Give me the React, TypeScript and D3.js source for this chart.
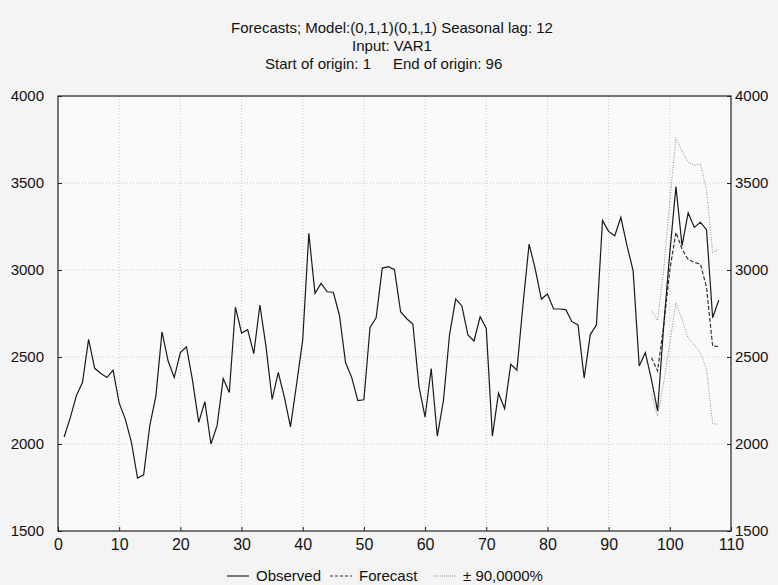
import { useEffect, useRef } from "react";
import * as d3 from "d3";

// observed series, t = 1..108
const observed = [
  2040, 2150, 2277, 2353, 2601, 2435, 2405, 2382, 2424, 2235,
  2143, 2010, 1804, 1823, 2105, 2277, 2645, 2477, 2382, 2525,
  2559, 2363, 2124, 2244, 2000, 2105, 2376, 2296, 2786, 2638,
  2657, 2519, 2799, 2560, 2256, 2411, 2269, 2098, 2345, 2600,
  3211, 2866, 2923, 2875, 2872, 2740, 2468, 2383, 2250, 2254,
  2670, 2725, 3011, 3019, 3002, 2760, 2720, 2690, 2330, 2155,
  2434, 2045, 2250, 2629, 2833, 2795, 2627, 2592, 2732, 2664,
  2045, 2292, 2203, 2458, 2424, 2800, 3149, 3006, 2833, 2862,
  2776, 2776, 2772, 2703, 2684, 2379, 2629, 2683, 3284, 3222,
  3197, 3303, 3140, 2996, 2448, 2525, 2370, 2190, 2680, 3100,
  3479, 3140, 3328, 3245, 3274, 3232, 2726, 2826,
];

// forecast and 90% bounds, t = 97..108
const forecastStart = 97;
const forecast = [2496, 2420, 2680, 3000, 3216, 3120, 3060, 3044, 3034, 2900, 2563, 2560];
const upper = [2768, 2710, 3000, 3400, 3760, 3680, 3620, 3600, 3610, 3460, 3100, 3120];
const lower = [2285, 2161, 2350, 2580, 2812, 2716, 2610, 2570, 2525, 2430, 2117, 2113];

const xTicks = [0, 10, 20, 30, 40, 50, 60, 70, 80, 90, 100, 110];
const yTicks = [1500, 2000, 2500, 3000, 3500, 4000];

const titleLines = ["Forecasts; Model:(0,1,1)(0,1,1) Seasonal lag: 12", "Input: VAR1"];

export default function App() {
  const ref = useRef<SVGSVGElement>(null);
  const width = 778;
  const height = 585;

  useEffect(() => {
    const margin = { top: 96, right: 47, bottom: 54, left: 58 };
    const innerWidth = width - margin.left - margin.right;
    const innerHeight = height - margin.top - margin.bottom;
    const font = "'Liberation Sans', Arial, sans-serif";
    const fmt = d3.format("d");

    const svg = d3.select(ref.current);
    svg.selectAll("*").remove();

    svg.append("rect").attr("width", width).attr("height", height).attr("fill", "#f4f4f4");

    // titles
    titleLines.forEach((t, i) => {
      svg
        .append("text")
        .attr("x", 392)
        .attr("y", 33 + i * 18)
        .attr("text-anchor", "middle")
        .attr("font-family", font)
        .attr("font-size", 15)
        .attr("fill", "#111")
        .text(t);
    });
    svg.append("text").attr("x", 371).attr("y", 69).attr("text-anchor", "end")
      .attr("font-family", font).attr("font-size", 15).attr("fill", "#111")
      .text("Start of origin: 1");
    svg.append("text").attr("x", 393).attr("y", 69)
      .attr("font-family", font).attr("font-size", 15).attr("fill", "#111")
      .text("End of origin: 96");

    const g = svg.append("g").attr("transform", `translate(${margin.left},${margin.top})`);

    const x = d3.scaleLinear().domain([0, 110]).range([0, innerWidth]);
    const y = d3.scaleLinear().domain([1500, 4000]).range([innerHeight, 0]);

    g.append("rect").attr("width", innerWidth).attr("height", innerHeight).attr("fill", "#fafafa");

    // grid
    g.selectAll("line.vgrid")
      .data(xTicks.slice(1, -1))
      .join("line")
      .attr("x1", (d) => x(d))
      .attr("x2", (d) => x(d))
      .attr("y1", 0)
      .attr("y2", innerHeight)
      .attr("stroke", "#c8c8c8")
      .attr("stroke-dasharray", "1,2");
    g.selectAll("line.hgrid")
      .data(yTicks.slice(1, -1))
      .join("line")
      .attr("x1", 0)
      .attr("x2", innerWidth)
      .attr("y1", (d) => y(d))
      .attr("y2", (d) => y(d))
      .attr("stroke", "#c8c8c8")
      .attr("stroke-dasharray", "1,2");

    // axes
    const styleAxis = (sel: any) => {
      sel.select(".domain").remove();
      sel.selectAll("line").attr("stroke", "#222");
      sel.selectAll("text").attr("font-family", font).attr("font-size", 15).attr("fill", "#111");
    };
    g.append("g")
      .attr("transform", `translate(0,${innerHeight})`)
      .call(d3.axisBottom(x).tickValues(xTicks).tickFormat(fmt).tickSizeInner(-4).tickSizeOuter(0).tickPadding(8))
      .call(styleAxis)
      .selectAll("text")
      .attr("font-size", 16);
    g.append("g")
      .call(d3.axisLeft(y).tickValues(yTicks).tickFormat(fmt).tickSizeInner(-4).tickSizeOuter(0).tickPadding(14))
      .call(styleAxis);
    g.append("g")
      .attr("transform", `translate(${innerWidth},0)`)
      .call(d3.axisRight(y).tickValues(yTicks).tickFormat(fmt).tickSizeInner(-4).tickSizeOuter(0).tickPadding(4))
      .call(styleAxis);

    g.append("rect")
      .attr("width", innerWidth)
      .attr("height", innerHeight)
      .attr("fill", "none")
      .attr("stroke", "#222")
      .attr("stroke-width", 1.2);

    const line = d3
      .line<number>()
      .x((d, i) => x(i + 1))
      .y((d) => y(d));
    const fline = d3
      .line<number>()
      .x((d, i) => x(i + forecastStart))
      .y((d) => y(d));

    [upper, lower].forEach((s) => {
      g.append("path")
        .attr("d", fline(s))
        .attr("fill", "none")
        .attr("stroke", "#8a8a8a")
        .attr("stroke-width", 1)
        .attr("stroke-dasharray", "1,1.5");
    });
    g.append("path")
      .attr("d", fline(forecast))
      .attr("fill", "none")
      .attr("stroke", "#333")
      .attr("stroke-width", 1.2)
      .attr("stroke-dasharray", "4,2");
    g.append("path")
      .attr("d", line(observed))
      .attr("fill", "none")
      .attr("stroke", "#1a1a1a")
      .attr("stroke-width", 1.2);

    // legend
    const ly = 576;
    const leg = svg.append("g").attr("font-family", font).attr("font-size", 15).attr("fill", "#111");
    const items = [
      { x: 227, label: "Observed", stroke: "#222", dash: null as string | null },
      { x: 330, label: "Forecast", stroke: "#333", dash: "3,2" },
      { x: 434, label: "± 90,0000%", stroke: "#8a8a8a", dash: "1,1" },
    ];
    items.forEach((it) => {
      leg.append("line")
        .attr("x1", it.x)
        .attr("x2", it.x + 22)
        .attr("y1", ly)
        .attr("y2", ly)
        .attr("stroke", it.stroke)
        .attr("stroke-width", 1.2)
        .attr("stroke-dasharray", it.dash);
      leg.append("text")
        .attr("x", it.x + 29)
        .attr("y", ly + 5)
        .text(it.label);
    });
  }, []);

  return (
    <svg
      ref={ref}
      width={width}
      height={height}
      style={{ position: "absolute", left: 0, top: 0, display: "block" }}
    ></svg>
  );
}
